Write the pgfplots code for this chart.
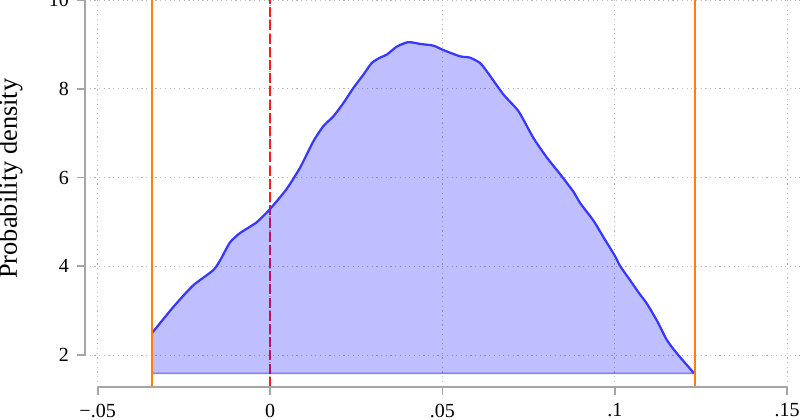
\documentclass[border=0pt]{standalone}
\usepackage{fontspec}
\setmainfont{Liberation Serif}
\usepackage{pgfplots}
\usepackage{pgfplotstable}
\pgfplotsset{compat=1.18}
\definecolor{axgray}{RGB}{165,165,165}
\definecolor{gridgray}{RGB}{185,185,185}
\definecolor{curveblue}{RGB}{55,55,255}
\definecolor{vorange}{RGB}{255,125,10}
\definecolor{redd}{RGB}{255,25,25}
\pgfplotstableread{
x y
-0.0343 2.49
-0.0281 3.08
-0.0223 3.57
-0.0165 3.91
-0.0145 4.13
-0.0116 4.54
-0.0087 4.75
-0.0039 4.99
0 5.29
0.0048 5.74
0.0087 6.22
0.0126 6.82
0.0155 7.16
0.0184 7.38
0.0213 7.68
0.0242 8.02
0.0271 8.32
0.0295 8.58
0.0319 8.70
0.0339 8.77
0.0368 8.95
0.0401 9.05
0.0435 9.01
0.0474 8.97
0.0503 8.87
0.0551 8.73
0.0580 8.70
0.0609 8.58
0.0629 8.39
0.0677 7.87
0.0721 7.49
0.0764 6.89
0.0803 6.45
0.0842 6.07
0.0880 5.68
0.0900 5.42
0.0938 5.03
0.0970 4.62
0.1000 4.24
0.1016 4.00
0.1045 3.68
0.1070 3.40
0.1093 3.16
0.1122 2.78
0.1151 2.34
0.1180 2.04
0.1230 1.59
}\densitydata
\pgfplotstableread{
x y
-0.0343 1.59
-0.0343 2.49
-0.0281 3.08
-0.0223 3.57
-0.0165 3.91
-0.0145 4.13
-0.0116 4.54
-0.0087 4.75
-0.0039 4.99
0 5.29
0.0048 5.74
0.0087 6.22
0.0126 6.82
0.0155 7.16
0.0184 7.38
0.0213 7.68
0.0242 8.02
0.0271 8.32
0.0295 8.58
0.0319 8.70
0.0339 8.77
0.0368 8.95
0.0401 9.05
0.0435 9.01
0.0474 8.97
0.0503 8.87
0.0551 8.73
0.0580 8.70
0.0609 8.58
0.0629 8.39
0.0677 7.87
0.0721 7.49
0.0764 6.89
0.0803 6.45
0.0842 6.07
0.0880 5.68
0.0900 5.42
0.0938 5.03
0.0970 4.62
0.1000 4.24
0.1016 4.00
0.1045 3.68
0.1070 3.40
0.1093 3.16
0.1122 2.78
0.1151 2.34
0.1180 2.04
0.1230 1.59
}\filldata
\begin{document}
\begin{tikzpicture}
\useasboundingbox (-42.5pt,-16.15pt) rectangle (357.5pt,193.35pt);
\begin{axis}[
  at={(0,0)}, anchor=south west,
  scale only axis, width=357.5pt, height=200.05pt,
  xmin=-0.05366, xmax=0.15371, ymin=1.289, ymax=10.3,
  clip=false,
  axis line style={draw=none},
  xtick={-0.05,0,0.05,0.1,0.15},
  xticklabels={−.05,0,.05,.1,.15},
  ytick={2,4,6,8,10},
  yticklabels={2,4,6,8,10},
  xtick pos=left, ytick pos=left,
  tick align=outside, major tick length=4pt,
  tick style={axgray, line width=0.9pt},
  grid=major,
  major grid style={gridgray, line width=0.6pt, dash pattern=on 0.6pt off 1.75pt},
  tick label style={font=\fontsize{10}{12}\selectfont},
  xticklabel style={yshift=-1pt},
  yticklabel style={xshift=-0.5pt},
]
\addplot[redd, line width=1pt, dash pattern=on 5pt off 1.6pt] coordinates {(0,1.289) (0,10.3)};
\addplot[fill=blue, fill opacity=0.25, draw=blue, draw opacity=0.45, line width=0.7pt] table[x=x,y=y] {\filldata} -- cycle;
\addplot[curveblue, line width=1.1pt, smooth, tension=0.4] table[x=x,y=y] {\densitydata};
\addplot[vorange, line width=1pt] coordinates {(-0.0343,1.289) (-0.0343,10.3)};
\addplot[vorange, line width=1pt] coordinates {(0.1232,1.289) (0.1232,10.3)};
\draw[axgray, line width=0.9pt] (axis cs:-0.05,1.289) -- (axis cs:0.15,1.289);
\draw[axgray, line width=0.9pt] (axis cs:-0.05366,2) -- (axis cs:-0.05366,10);
\end{axis}
\node[rotate=90, anchor=base, font=\fontsize{13.2}{15}\selectfont] at (-34pt,104.05pt) {Probability density};
\end{tikzpicture}
\end{document}
